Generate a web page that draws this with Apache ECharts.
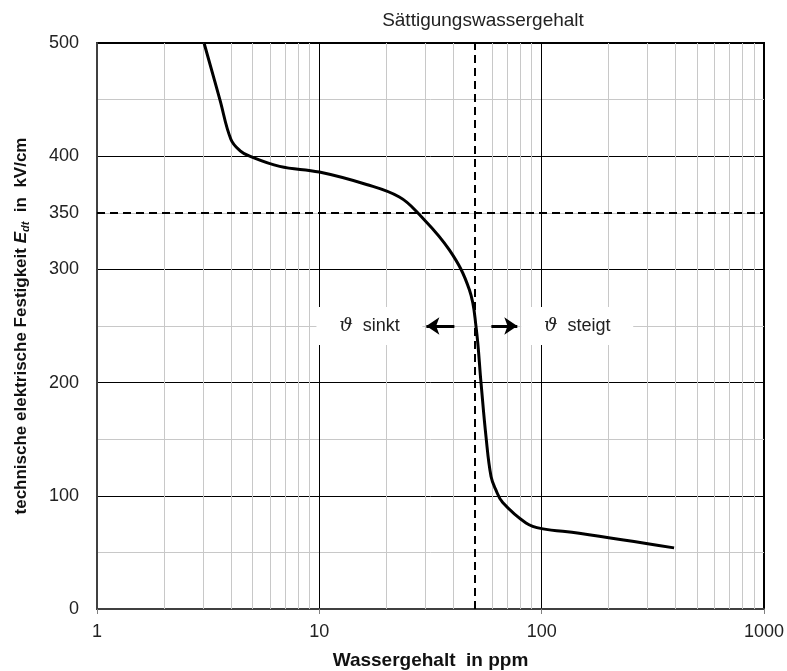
<!DOCTYPE html>
<html>
<head>
<meta charset="UTF-8">
<title></title>
<script src="https://cdn.jsdelivr.net/npm/echarts@6/dist/echarts.min.js"></script>
<style type="text/css">
	*{margin:0;padding:0;}
	body{background:#fff;}
	#main{width:787px;height:671px;}
</style>
</head>
<body>
<div id="main"></div>
<script type="text/javascript">
// Kurve: Wassergehalt (ppm) -> Festigkeit (kV/cm)
var waterPpm = [3.03, 3.57, 4.0, 4.39, 4.86, 6.63, 10, 16.3, 22.9, 27.7, 38.5, 47.3, 50.7, 53.4, 56.2, 59.2, 62.3, 66.8, 85, 100, 147.5, 394];
var strength = [500, 450, 415, 405, 400, 391, 386, 375, 364, 350, 317, 282, 249, 199, 152, 117, 105, 94, 76, 71, 67, 54];

// Achsen
var xTicks = [1, 10, 100, 1000];
var yLabels = [0, 100, 200, 300, 350, 400, 500];
var minorX = [2,3,4,5,6,7,8,9,20,30,40,50,60,70,80,90,200,300,400,500,600,700,800,900];

// Markierungen
var saturation = 50;     // Sättigungswassergehalt
var refLevel = 350;
var arrowY = 250;
var arrowLeft = [40.5, 30.3];
var arrowRight = [59.4, 77.7];
var sinktPos = [16.8, 250];
var steigtPos = [144.5, 250];

var fontFam = 'Liberation Sans, Arial, sans-serif';

var curve = [];
for (var i = 0; i < waterPpm.length; i++) {
	curve.push([waterPpm[i], strength[i]]);
}

var minorLines = [];
for (var k = 0; k < minorX.length; k++) {
	if (minorX[k] !== saturation) minorLines.push({xAxis: minorX[k]});
}

var myChart = echarts.init(document.getElementById('main'));
var option = {
	animation: false,
	title: {
		text: 'Sättigungswassergehalt',
		left: 478,
		top: 6,
		textAlign: 'center',
		textStyle: {fontSize: 19, fontWeight: 'normal', color: '#222', fontFamily: fontFam}
	},
	grid: {
		left: 97, right: 23, top: 43, bottom: 62,
		outerBoundsMode: 'none',
		show: true, borderColor: '#000', borderWidth: 2
	},
	xAxis: {
		type: 'log',
		logBase: 10,
		min: 1,
		max: 1000,
		name: 'Wassergehalt  in ppm',
		nameLocation: 'middle',
		nameGap: 42,
		nameTextStyle: {fontSize: 19, fontWeight: 'bold', color: '#111', fontFamily: fontFam},
		axisLine: {lineStyle: {color: '#404040', width: 2}},
		axisTick: {show: true, length: 5, lineStyle: {color: '#808080'}},
		axisLabel: {
			fontSize: 18, color: '#222', fontFamily: fontFam, margin: 14,
			formatter: function (v) { return xTicks.indexOf(v) >= 0 ? String(v) : ''; }
		},
		splitLine: {show: true, lineStyle: {color: '#000', width: 1}}
	},
	yAxis: {
		type: 'value',
		min: 0,
		max: 500,
		interval: 50,
		name: '{t|technische elektrische Festigkeit }{e|E}{s|dt}{t|  in  kV/cm}',
		nameLocation: 'middle',
		nameRotate: 90,
		nameGap: 66,
		nameTextStyle: {
			rich: {
				t: {fontSize: 17, fontWeight: 'bold', color: '#111', fontFamily: fontFam},
				e: {fontSize: 17, fontWeight: 'bold', fontStyle: 'italic', color: '#111', fontFamily: fontFam},
				s: {fontSize: 11, fontWeight: 'bold', fontStyle: 'italic', color: '#111', fontFamily: fontFam, padding: [8, 0, 0, 0]}
			}
		},
		axisLine: {show: true, lineStyle: {color: '#404040', width: 2}},
		axisTick: {show: false},
		axisLabel: {
			fontSize: 18, color: '#222', fontFamily: fontFam, margin: 18,
			formatter: function (v) { return yLabels.indexOf(v) >= 0 ? String(v) : ''; }
		},
		splitLine: {show: true, lineStyle: {color: ['#000', '#c8c8c8'], width: 1}}
	},
	series: [
		{
			// Nebengitter auf der log-Achse
			type: 'line',
			data: [],
			z: 1,
			silent: true,
			markLine: {
				silent: true,
				symbol: 'none',
				label: {show: false},
				lineStyle: {color: '#c8c8c8', width: 1, type: 'solid'},
				data: minorLines
			}
		},
		{
			type: 'line',
			data: [],
			z: 3,
			silent: true,
			markLine: {
				silent: true,
				symbol: 'none',
				label: {show: false},
				lineStyle: {color: '#000', width: 2, type: [8, 5]},
				data: [{xAxis: saturation}, {yAxis: refLevel}]
			}
		},
		{
			type: 'line',
			data: [],
			z: 4,
			silent: true,
			markPoint: {
				silent: true,
				symbol: 'rect',
				symbolSize: [106, 38],
				itemStyle: {color: '#fff'},
				label: {
					show: true,
					color: '#222',
					fontSize: 18,
					fontFamily: fontFam,
					rich: {
						g: {fontSize: 19, fontStyle: 'italic', fontFamily: 'DejaVu Serif, serif', color: '#222'},
						n: {fontSize: 18, fontFamily: fontFam, color: '#222'}
					}
				},
				data: [
					{coord: sinktPos, label: {formatter: '{g|ϑ}{n|  sinkt}'}},
					{coord: steigtPos, symbolSize: [112, 38], label: {formatter: '{g|ϑ}{n|  steigt}'}}
				]
			},
			markLine: {
				silent: true,
				symbol: ['none', 'arrow'],
				symbolSize: [13, 13],
				label: {show: false},
				lineStyle: {color: '#000', width: 3, type: 'solid'},
				data: [
					[{coord: [arrowLeft[0], arrowY]}, {coord: [arrowLeft[1], arrowY]}],
					[{coord: [arrowRight[0], arrowY]}, {coord: [arrowRight[1], arrowY]}]
				]
			}
		},
		{
			name: 'Festigkeit',
			type: 'line',
			z: 5,
			smooth: 0.4,
			showSymbol: false,
			lineStyle: {color: '#000', width: 3},
			data: curve
		}
	]
};
myChart.setOption(option);
</script>
</body>
</html>
